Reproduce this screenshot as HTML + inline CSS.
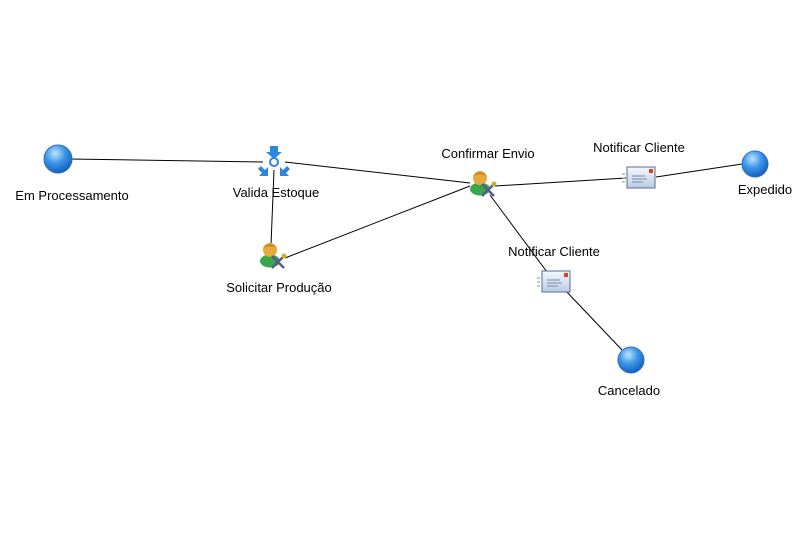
<!DOCTYPE html>
<html><head><meta charset="utf-8"><style>
html,body{margin:0;padding:0;background:#fff;width:807px;height:537px;overflow:hidden}
svg text{font-family:"Liberation Sans",sans-serif;font-size:13px;fill:#000}
</style></head><body>
<svg width="807" height="537" viewBox="0 0 807 537" xmlns="http://www.w3.org/2000/svg">
<defs>
<radialGradient id="bg" cx="0.4" cy="0.3" r="0.7">
<stop offset="0" stop-color="#bfe3ff"/><stop offset="0.5" stop-color="#3d97e8"/><stop offset="1" stop-color="#1560c0"/></radialGradient>
<linearGradient id="envgrad" x1="0" y1="0" x2="0" y2="1"><stop offset="0" stop-color="#f4f8fd"/><stop offset="1" stop-color="#b9cce4"/></linearGradient>
</defs>
<g stroke="#000" stroke-width="1" fill="none">
<line x1="70" y1="159" x2="263" y2="162"/>
<line x1="285" y1="162" x2="470" y2="183"/>
<line x1="274" y1="170" x2="271" y2="245"/>
<line x1="285" y1="258" x2="470" y2="186"/>
<line x1="495" y1="186" x2="626" y2="178"/>
<line x1="656" y1="177" x2="742" y2="164"/>
<line x1="490" y1="195" x2="547" y2="272"/>
<line x1="565" y1="290" x2="622" y2="350"/>
</g>
<circle cx="58" cy="159" r="14" fill="url(#bg)" stroke="#2a6fc0"/>
<circle cx="755" cy="164" r="13" fill="url(#bg)" stroke="#2a6fc0"/>
<circle cx="631" cy="360" r="13" fill="url(#bg)" stroke="#2a6fc0"/>
<g fill="#2e86dd">
<path d="M270,146 h8 v6 h4 l-8,7 l-8,-7 h4z"/>
<path d="M261,166 l4,4 l3,-3 l0,9 l-9,0 l3,-3 l-4,-4z"/>
<path d="M287,166 l-4,4 l-3,-3 l0,9 l9,0 l-3,-3 l4,-4z"/>
</g>
<circle cx="274" cy="162" r="4" fill="#fff" stroke="#2e86dd" stroke-width="2"/>
<g transform="translate(480,180)">
<ellipse cx="0" cy="9" rx="10" ry="6.5" fill="#3aa84a"/>
<circle cx="0" cy="-2" r="7" fill="#e6a93a"/>
<path d="M-7,-4 Q0,-12 7,-4 Q0,-7 -7,-4z" fill="#c98a20"/>
<path d="M2,4 L14,16 M14,4 L2,16" stroke="#5a5a8a" stroke-width="2.5"/>
<circle cx="14" cy="4" r="2.5" fill="#c9b030"/>
</g>
<g transform="translate(270,252)">
<ellipse cx="0" cy="9" rx="10" ry="6.5" fill="#3aa84a"/>
<circle cx="0" cy="-2" r="7" fill="#e6a93a"/>
<path d="M-7,-4 Q0,-12 7,-4 Q0,-7 -7,-4z" fill="#c98a20"/>
<path d="M2,4 L14,16 M14,4 L2,16" stroke="#5a5a8a" stroke-width="2.5"/>
<circle cx="14" cy="4" r="2.5" fill="#c9b030"/>
</g>
<g transform="translate(641,177)">
<rect x="-14" y="-10" width="28" height="21" fill="url(#envgrad)" stroke="#5a6e8c"/>
<rect x="8" y="-8" width="4" height="4" fill="#e04020"/>
<path d="M-9,-1 H4 M-9,2 H6 M-9,5 H2" stroke="#7a8aa8"/>
<path d="M-19,-3 H-16 M-19,1 H-16 M-19,5 H-16" stroke="#888"/>
</g>
<g transform="translate(556,281)">
<rect x="-14" y="-10" width="28" height="21" fill="url(#envgrad)" stroke="#5a6e8c"/>
<rect x="8" y="-8" width="4" height="4" fill="#e04020"/>
<path d="M-9,-1 H4 M-9,2 H6 M-9,5 H2" stroke="#7a8aa8"/>
<path d="M-19,-3 H-16 M-19,1 H-16 M-19,5 H-16" stroke="#888"/>
</g>
<text x="72" y="200" text-anchor="middle">Em Processamento</text>
<text x="276" y="197" text-anchor="middle">Valida Estoque</text>
<text x="279" y="292" text-anchor="middle">Solicitar Produção</text>
<text x="488" y="158" text-anchor="middle">Confirmar Envio</text>
<text x="639" y="152" text-anchor="middle">Notificar Cliente</text>
<text x="765" y="194" text-anchor="middle">Expedido</text>
<text x="554" y="256" text-anchor="middle">Notificar Cliente</text>
<text x="629" y="395" text-anchor="middle">Cancelado</text>
</svg>
</body></html>
